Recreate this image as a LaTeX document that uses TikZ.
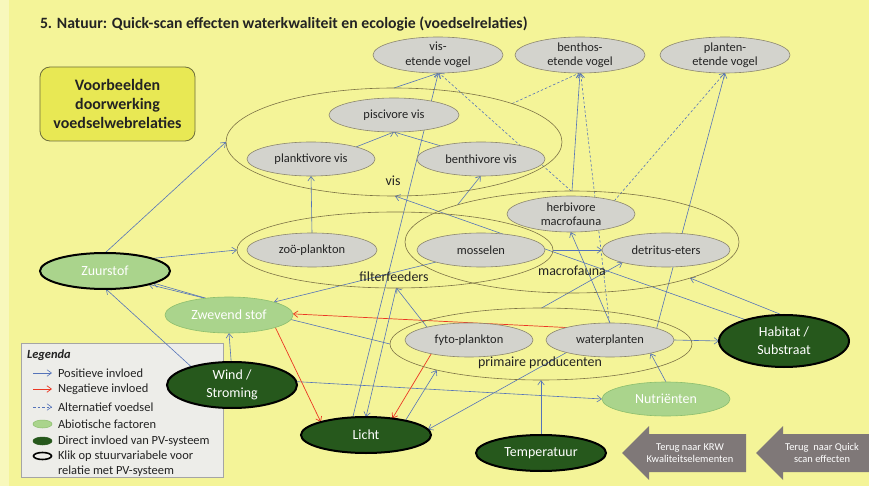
\documentclass[tikz,border=0pt]{standalone}
\usepackage{fontspec}
\setmainfont{Carlito}
\usetikzlibrary{shapes.geometric,arrows.meta}
\definecolor{bgy}{RGB}{244,244,152}
\definecolor{strip}{RGB}{248,248,188}
\definecolor{ggray}{RGB}{211,211,205}
\definecolor{gbord}{RGB}{140,135,110}
\definecolor{txt}{RGB}{35,35,35}
\definecolor{grpc}{RGB}{125,115,70}
\definecolor{lgreen}{RGB}{170,212,140}
\definecolor{lgb}{RGB}{140,190,110}
\definecolor{dgreen}{RGB}{38,88,28}
\definecolor{blu}{RGB}{85,115,185}
\definecolor{rd}{RGB}{235,55,35}
\definecolor{legf}{RGB}{237,237,233}
\definecolor{legb}{RGB}{165,165,165}
\definecolor{vfill}{RGB}{232,232,84}
\definecolor{vbord}{RGB}{110,110,60}
\definecolor{arrg}{RGB}{127,120,120}
\pgfdeclarelayer{back}
\pgfdeclarelayer{edges}
\pgfsetlayers{back,edges,main}
\begin{document}
\begin{tikzpicture}[x=1bp,y=-1bp,
  every node/.style={inner sep=0pt, outer sep=0pt},
  sz/.style 2 args={minimum width=#1bp, minimum height=#2bp},
  gnode/.style={ellipse, draw=gbord, fill=ggray, line width=0.6bp, text=txt, font=\fontsize{12.5}{14.5}\selectfont, align=center},
  grp/.style={ellipse, draw=grpc, line width=0.6bp},
  glab/.style={text=txt, font=\fontsize{14}{16}\selectfont},
  abio/.style={ellipse, draw=lgb, fill=lgreen, line width=0.6bp, text=white, font=\fontsize{14}{17}\selectfont, align=center},
  pvs/.style={ellipse, draw=black, fill=dgreen, line width=2bp, text=white, font=\fontsize{14}{18}\selectfont, align=center},
  arrtip/.style={-{Straight Barb[length=4.5bp,width=6.5bp]}},
  posarr/.style={draw=blu, line width=0.6bp, arrtip},
  negarr/.style={draw=rd, line width=0.7bp, arrtip},
  altarr/.style={draw=blu, line width=0.6bp, dash pattern=on 2.5bp off 2bp, arrtip},
  legtxt/.style={anchor=west, text=txt, font=\fontsize{12.5}{15}\selectfont, align=left}
]
\useasboundingbox (0,0) rectangle (869,486);
\begin{pgfonlayer}{back}
  \fill[bgy] (0,0) rectangle (869,486);
  \fill[strip] (0,0) rectangle (9,486);
  \node[draw=legb, fill=legf, line width=0.6bp, sz={202}{134}] (legbox) at (122,410) {};
\end{pgfonlayer}

% title and example box
\node[anchor=west, text=txt, font=\bfseries\fontsize{15.8}{18}\selectfont] (title) at (40,24) {5. Natuur: Quick-scan effecten waterkwaliteit en ecologie (voedselrelaties)};
\node[draw=vbord, fill=vfill, rounded corners=10bp, line width=0.8bp, sz={155}{74}, align=center, text=txt, font=\bfseries\fontsize{16}{19}\selectfont] (vb) at (117.5,104) {Voorbeelden\\doorwerking\\voedselwebrelaties};

% group ellipses
\node[grp, sz={336}{108}] (gvis) at (394,142) {};
\node[grp, sz={316}{76}] (gfilt) at (395,250) {};
\node[grp, sz={334}{102}] (gmacro) at (572,242) {};
\node[grp, sz={302}{72}] (gprim) at (541,344) {};
\node[glab] (lvis) at (393,181) {vis};
\node[glab] (lfilt) at (394,277) {filterfeeders};
\node[glab] (lmacro) at (572,271) {macrofauna};
\node[glab] (lprim) at (540,363) {primaire producenten};

% birds
\node[gnode, sz={130}{36}] (bvis) at (438,55) {vis-\\etende vogel};
\node[gnode, sz={130}{36}] (bben) at (580,55) {benthos-\\etende vogel};
\node[gnode, sz={130}{36}] (bpla) at (725,55) {planten-\\etende vogel};

% fish
\node[gnode, sz={130}{34}] (pisc) at (394,115) {piscivore vis};
\node[gnode, sz={128}{34}] (plank) at (311,159) {planktivore vis};
\node[gnode, sz={128}{34}] (benth) at (481,159) {benthivore vis};

% filterfeeders, macrofauna
\node[gnode, sz={130}{34}] (zoo) at (312,250) {zoö-plankton};
\node[gnode, sz={128}{34}] (moss) at (481,250) {mosselen};
\node[gnode, sz={128}{36}] (herb) at (571,214) {herbivore\\macrofauna};
\node[gnode, sz={128}{34}] (detr) at (666,250) {detritus-eters};

% primary producers
\node[gnode, sz={128}{34}] (fyto) at (469,340) {fyto-plankton};
\node[gnode, sz={128}{34}] (wpl) at (610,340) {waterplanten};

% abiotic
\node[abio, draw=black, line width=2bp, sz={130}{36}] (zuur) at (105,271) {Zuurstof};
\node[abio, sz={128}{36}] (zwev) at (229,315) {Zwevend stof};
\node[abio, sz={128}{34}] (nutr) at (666,399) {Nutriënten};
\node[pvs, sz={130}{46}] (wind) at (232,385) {Wind /\\Stroming};
\node[pvs, sz={130}{36}] (licht) at (366,435) {Licht};
\node[pvs, sz={130}{36}] (temp) at (541,453) {Temperatuur};
\node[pvs, sz={130}{52}] (hab) at (784,341) {Habitat /\\Substraat};

% legend
\node[anchor=west, text=txt, font=\bfseries\itshape\fontsize{12.5}{15}\selectfont] (legt) at (27,355) {Legenda};
\coordinate (la1) at (33,373); \coordinate (lb1) at (52,373);
\coordinate (la2) at (33,389); \coordinate (lb2) at (52,389);
\coordinate (la3) at (33,407); \coordinate (lb3) at (52,407);
\draw[posarr] (la1) -- (lb1);
\draw[negarr] (la2) -- (lb2);
\draw[altarr] (la3) -- (lb3);
\node[legtxt] (lt1) at (58,373) {Positieve invloed};
\node[legtxt] (lt2) at (58,389) {Negatieve invloed};
\node[legtxt] (lt3) at (58,407) {Alternatief voedsel};
\node[ellipse, fill=lgreen, draw=lgb, line width=0.5bp, sz={19}{8}] (ls1) at (42.5,424) {};
\node[ellipse, fill=dgreen, draw=dgreen, line width=0.5bp, sz={19}{8}] (ls2) at (42.5,441) {};
\node[ellipse, fill=legf, draw=black, line width=1.6bp, sz={18}{7}] (ls3) at (42.5,456) {};
\node[legtxt] (lt4) at (58,424) {Abiotische factoren};
\node[legtxt] (lt5) at (58,441) {Direct invloed van PV-systeem};
\node[legtxt] (lt6) at (58,463.5) {Klik op stuurvariabele voor\\relatie met PV-systeem};

% back buttons
\fill[arrg] (622,453) -- (649,426) -- (649,434) -- (746,434) -- (746,472) -- (649,472) -- (649,480) -- cycle;
\fill[arrg] (756,453) -- (783,426) -- (783,434) -- (869,434) -- (869,472) -- (783,472) -- (783,480) -- cycle;
\node[text=white, font=\fontsize{10.5}{12.5}\selectfont, align=center] (back1) at (690,453) {Terug naar KRW\\Kwaliteitselementen};
\node[text=white, font=\fontsize{10.5}{12.5}\selectfont, align=center] (back2) at (822,453) {Terug\ \ naar Quick\\scan effecten};

% connectors
\begin{pgfonlayer}{edges}
  \draw[posarr] (zuur.90) -- (gvis.180);
  \draw[posarr] (zuur.15) -- (gfilt.180);
  \draw[posarr] (zwev.144) -- (zuur.-14);
  \draw[posarr] (gprim.180) -- (zuur.-17);
  \draw[posarr] (wind.156) -- (zuur.-87);
  \draw[posarr] (wind.92) -- (zwev.270);
  \draw[posarr] (wind.3) -- (nutr.180);
  \draw[negarr] (zwev.-15) -- (licht.164);
  \draw[negarr] (wpl.164) -- (zwev.1);
  \draw[negarr] (fyto.200) -- (licht.32);
  \draw[posarr] (licht.20) -- (gprim.194);
  \draw[posarr] (gfilt.-88) -- (licht.90);
  \draw[posarr] (licht.127) -- (bvis.-89);
  \draw[posarr] (temp.90) -- (gprim.270);
  \draw[posarr] (nutr.90) -- (wpl.-18);
  \draw[posarr] (wpl.0) -- (hab.180);
  \draw[posarr] (hab.94) -- (gmacro.-17);
  \draw[posarr] (hab.151) -- (gvis.-89);
  \draw[posarr] (gfilt.0) -- (detr.180);
  \draw[posarr] (gprim.89) -- (detr.196);
  \draw[posarr] (fyto.163) -- (gfilt.-88);
  \draw[posarr] (moss.195) -- (zwev.16);
  \draw[posarr] (zoo.90) -- (plank.270);
  \draw[posarr] (plank.15) -- (pisc.270);
  \draw[posarr] (benth.162) -- (pisc.270);
  \draw[posarr] (gmacro.162) -- (benth.269);
  \draw[posarr] (gvis.90) -- (bvis.-88);
  \draw[posarr] (gmacro.90) -- (bben.270);
  \draw[posarr] (wpl.14) -- (bpla.270);
  \draw[posarr] (wpl.90) -- (herb.269);
  \draw[posarr] (wpl.196) -- (licht.5);
  \draw[altarr] (gmacro.91) -- (bvis.-87);
  \draw[altarr] (gvis.18) -- (bben.-92);
  \draw[altarr] (wpl.92) -- (bben.-88);
  \draw[altarr] (herb.17) -- (bpla.-91);
\end{pgfonlayer}
\end{tikzpicture}
\end{document}
